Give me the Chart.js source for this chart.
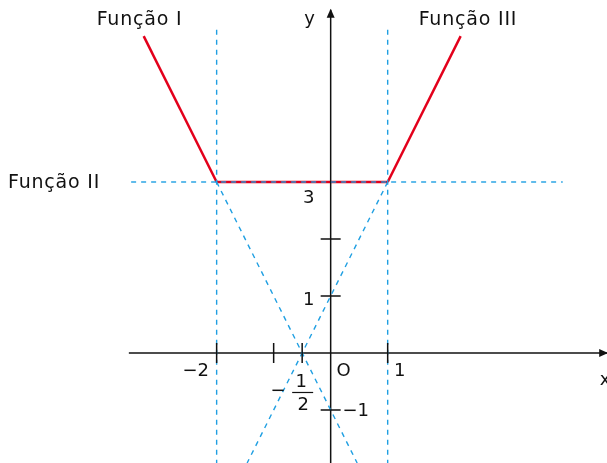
<!DOCTYPE html>
<html>
<head>
<meta charset="utf-8">
<script src="https://cdn.jsdelivr.net/npm/chart.js@4/dist/chart.umd.min.js"></script>
<style>
html,body{margin:0;padding:0;background:#fff;}
#wrap{width:607px;height:463px;}
</style>
</head>
<body>
<div id="wrap"><canvas id="c" width="607" height="463"></canvas></div>
<script>
// ---- data (math units) ----
const funcI   = [{x:-3.28, y:5.56}, {x:-2, y:3}];
const funcII  = [{x:-2, y:3}, {x:1, y:3}];
const funcIII = [{x:1, y:3}, {x:2.28, y:5.56}];
const dashDown = [{x:-2, y:3}, {x:0.465, y:-1.93}];   // y = -2x - 1
const dashUp   = [{x:1, y:3}, {x:-1.465, y:-1.93}];   // y = 2x + 1
const dashH    = [{x:-3.50, y:3}, {x:4.07, y:3}];
const dashV1   = [{x:-2, y:5.67}, {x:-2, y:-1.93}];
const dashV2   = [{x:1, y:5.67}, {x:1, y:-1.93}];
const xAxisPts = [{x:-3.54, y:0}, {x:4.85, y:0}];
const yAxisPts = [{x:0, y:-1.93}, {x:0, y:6.02}];
const xTickValues = [-2, -1, -0.5, 1];
const yTickValues = [2, 1, -1];
const xTickLabelValues = [-2, 1];
const xTickLabelTexts  = ['−2', '1'];
const yTickLabelValues = [3, 1, -1];
const yTickLabelTexts  = ['3', '1', '−1'];
const funcNames = ['Função I', 'Função II', 'Função III'];

const RED = '#e3001b';
const BLUE = '#1f9fe2';
const INK = '#111';
const FONT = '18px "DejaVu Sans", Verdana, sans-serif';
const NAME_FONT = '19px "DejaVu Sans", Verdana, sans-serif';

function ds(data, color, width, dash){
  return {data, showLine:true, borderColor:color, borderWidth:width, borderDash:dash||[],
          pointRadius:0, pointHoverRadius:0, fill:false, clip:false, tension:0};
}

const overlay = {
  id:'overlay',
  afterDatasetsDraw(chart){
    const ctx = chart.ctx, xs = chart.scales.x, ys = chart.scales.y;
    const X = v => xs.getPixelForValue(v), Y = v => ys.getPixelForValue(v);
    ctx.save();
    ctx.strokeStyle = INK; ctx.fillStyle = INK; ctx.lineWidth = 1.5;
    // ticks
    ctx.beginPath();
    xTickValues.forEach(v => { ctx.moveTo(X(v), Y(0)-10); ctx.lineTo(X(v), Y(0)+10); });
    yTickValues.forEach(v => { ctx.moveTo(X(0)-10, Y(v)); ctx.lineTo(X(0)+10, Y(v)); });
    ctx.stroke();
    // arrowheads
    const ax = X(xAxisPts[1].x), ay = Y(0);
    ctx.beginPath(); ctx.moveTo(ax+1, ay); ctx.lineTo(ax-8, ay-4); ctx.lineTo(ax-8, ay+4); ctx.closePath(); ctx.fill();
    const bx = X(0), by = Y(yAxisPts[1].y);
    ctx.beginPath(); ctx.moveTo(bx, by-1); ctx.lineTo(bx-4, by+8); ctx.lineTo(bx+4, by+8); ctx.closePath(); ctx.fill();
    // labels
    ctx.font = FONT; ctx.textAlign = 'center'; ctx.textBaseline = 'middle';
    xTickLabelValues.forEach((v,i) => {
      const off = v < 0 ? -21 : 12;
      ctx.fillText(xTickLabelTexts[i], X(v)+off, Y(0)+18);
    });
    ctx.fillText('O', X(0)+13, Y(0)+18);
    yTickLabelValues.forEach((v,i) => {
      if (v < 0) ctx.fillText(yTickLabelTexts[i], X(0)+25, Y(v)+1);
      else ctx.fillText(yTickLabelTexts[i], X(0)-22, Y(v)+(v===3?16:4));
    });
    // -1/2 fraction
    const fx = X(-0.5);
    ctx.fillText('1', fx-1, Y(0)+29);
    ctx.fillText('2', fx+1, Y(0)+52);
    ctx.fillText('−', fx-24, Y(0)+38);
    ctx.lineWidth = 1.2;
    ctx.beginPath(); ctx.moveTo(fx-10, Y(0)+39.5); ctx.lineTo(fx+11, Y(0)+39.5); ctx.stroke();
    // axis names
    ctx.fillText('x', X(xAxisPts[1].x)-2, Y(0)+27);
    ctx.fillText('y', X(0)-21, Y(yAxisPts[1].y)+9);
    // function names
    ctx.font = NAME_FONT;
    ctx.letterSpacing = '0.8px';
    ctx.textAlign = 'left';
    ctx.fillText(funcNames[0], X(funcI[0].x)-47, Y(funcI[0].y)-16);
    ctx.fillText(funcNames[1], 8, Y(3)+1);
    ctx.fillText(funcNames[2], X(funcIII[1].x)-42, Y(funcIII[1].y)-16);
    ctx.restore();
  }
};

new Chart(document.getElementById('c'), {
  type:'scatter',
  data:{datasets:[
    ds(dashH, BLUE, 1.4, [5,5]),
    ds(dashV1, BLUE, 1.4, [5,5]),
    ds(dashV2, BLUE, 1.4, [5,5]),
    ds(dashDown, BLUE, 1.4, [5,5]),
    ds(dashUp, BLUE, 1.4, [5,5]),
    ds(xAxisPts, INK, 1.5),
    ds(yAxisPts, INK, 1.5),
    ds(funcI, RED, 2.5),
    ds(funcII, RED, 2.5),
    ds(funcIII, RED, 2.5)
  ]},
  options:{
    responsive:false, animation:false, devicePixelRatio:1,
    layout:{padding:0},
    scales:{
      x:{type:'linear', min:-5.80, max:4.847, display:false},
      y:{type:'linear', min:-1.93, max:6.193, display:false}
    },
    plugins:{legend:{display:false}, tooltip:{enabled:false}}
  },
  plugins:[overlay]
});
</script>
</body>
</html>
